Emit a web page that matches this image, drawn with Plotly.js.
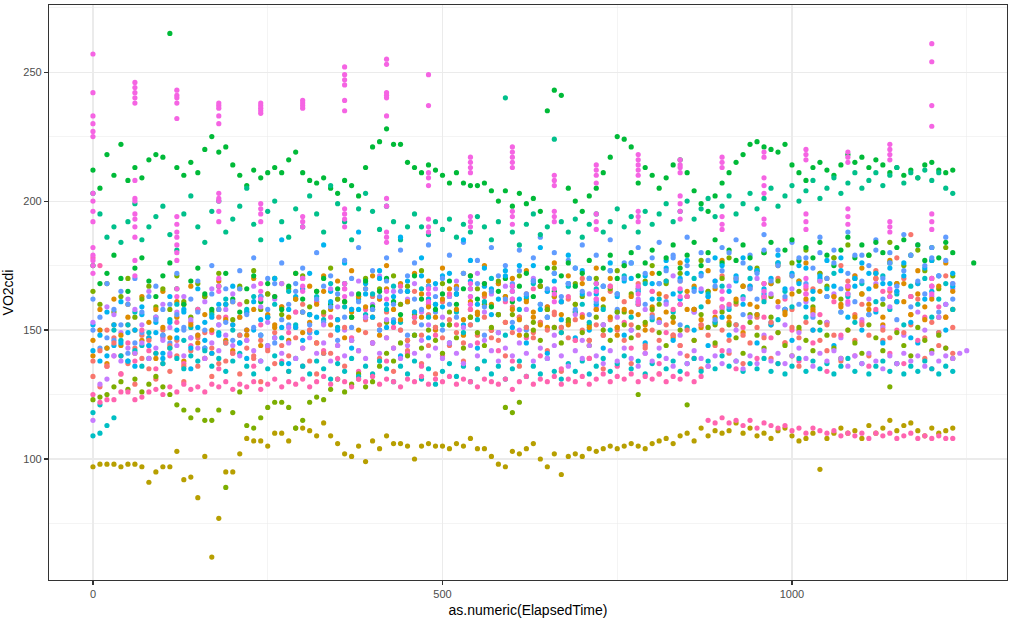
<!DOCTYPE html>
<html><head><meta charset="utf-8">
<script src="https://cdn.plot.ly/plotly-3.0.1.min.js"></script>
<style>html,body{margin:0;padding:0;background:#fff}#chart{width:1024px;height:624px}</style>
</head><body><div id="chart"></div>
<script>
// elapsed time grid (s)
const times = [0,10,20,30,40,50,60,70,80,90,100,110,120,130,140,150,160,170,180,190,
200,210,220,230,240,250,260,270,280,290,300,310,320,330,340,350,360,370,380,390,
400,410,420,430,440,450,460,470,480,490,500,510,520,530,540,550,560,570,580,590,
600,610,620,630,640,650,660,670,680,690,700,710,720,730,740,750,760,770,780,790,
800,810,820,830,840,850,860,870,880,890,900,910,920,930,940,950,960,970,980,990,
1000,1010,1020,1030,1040,1050,1060,1070,1080,1090,1100,1110,1120,1130,1140,1150,1160,1170,1180,1190,
1200,1210,1220,1230,1240,1250,1260];

const colors = ['#F8766D','#DE8C00','#B79F00','#7CAE00','#00BA38','#00BA38','#00C08B','#00BFC4','#00B4F0','#619CFF','#C77CFF','#F564E3','#FF64B0'];

const salmon = [138,142,136,145,140,137,143,139,146,141,
137,144,140,136,142,147,139,143,137,145,
141,148,143,139,146,142,149,144,140,147,
143,150,145,141,148,144,151,146,142,149,
145,152,147,143,150,146,153,148,144,151,
147,154,149,145,152,148,155,150,146,153,
149,155,151,147,153,150,156,151,147,154,
150,146,152,148,154,150,146,152,148,144,
150,146,152,148,144,150,146,152,148,144,
150,146,152,148,145,151,147,153,149,145,
151,147,153,166,146,152,148,175,150,146,
152,148,170,150,147,178,149,187,168,147,
153,149,155,151];
const salmon2 = [132,128,150,147,133,152,129,148,135,131,
150,134,146,130,153,136,149,132,155,138,
152,133,157,140,130,155,137,159,134,151,
160,138,133,156,141,162,136,158,131,154,
163,139,157,134,160,142,165,137,156,133,
161,144,166,138,158,135,163,147,168,140,
159,136,164,149,167,142,157,134,162,146,
170,139,158,135,165,151,161,137,168,143,
156,133,163,148,169,140,158,135,165,153,
171,141,160,137,167,155,162,139,170,145,
158,136,166,150,172,142,163,138,169,156,
160,140,173,146,165,137,170,152,162,139,
167,144,171,141];

const orange = [146,150,143,152,148,155,150,146,153,158,
151,147,155,160,152,148,156,150,158,154,
161,155,150,158,163,156,152,159,155,162,
157,153,160,165,158,154,161,157,163,159,
155,162,166,158,154,161,157,164,159,155,
162,166,158,154,161,157,164,160,156,163,
158,154,161,157,152,159,163,156,152,160,
155,151,158,162,155,151,158,163,156,152,
159,164,157,153,160,165,158,154,161,166,
159,155,162,167,160,156,163,168,161,157,
164,169,162,158,165,170,163,159,166,171,
164,160,167,155,163,168,161,156,164,154,
162,167,155,165];
const orange2 = [140,158,137,162,144,160,141,163,147,139,
165,143,161,138,167,145,163,141,169,146,
142,166,148,170,144,164,151,168,146,172,
149,167,145,171,152,169,147,173,150,166,
171,148,175,153,168,146,172,155,169,150,
174,152,167,148,171,156,175,150,168,153,
170,148,173,155,167,151,176,149,171,157,
168,146,174,152,170,148,175,157,166,150,
172,154,169,147,176,158,167,151,173,155,
177,153,170,149,174,159,168,152,175,156,
171,150,176,157,169,153,178,160,167,155,
174,158,170,152,177,161,168,156,173,159,
170,155,176,158];

const olive = [97,98,98,98,97,98,98,97,91,95,
97,97,103,92,93,85,101,62,77,95,
95,102,108,107,107,105,110,110,107,112,
112,111,109,114,109,106,102,101,105,99,
107,104,109,106,106,105,100,105,106,105,
105,104,106,105,108,104,104,101,98,97,
103,102,104,106,100,97,102,94,101,102,
101,104,103,104,105,104,105,106,105,104,
106,107,108,106,109,110,107,112,109,111,
110,111,114,110,112,109,110,108,111,112,
109,107,108,110,96,108,110,112,110,111,
108,113,110,112,115,111,113,114,111,109,
112,110,111,112];

const yellowGreen = [123,124,125,128,130,127,131,126,129,132,
128,125,121,119,116,119,115,115,119,89,
118,126,113,112,116,120,122,122,120,112,
115,122,124,123,127,131,126,129,133,128,
130,136,141,138,145,140,148,143,150,146,
141,152,147,143,155,149,144,151,156,120,
118,122,148,153,146,158,151,145,154,160,
149,144,155,150,146,157,152,147,125,153,
158,149,144,155,150,121,146,156,151,145,
157,152,147,141,153,148,143,155,149,144,
140,151,146,142,153,148,143,139,150,145,
141,152,147,142,128,149,144,140,151,146,
142,148,143,139];
const yellowGreen2 = [165,160,168,157,163,170,155,162,167,159,
166,158,171,161,155,168,163,157,172,160,
154,167,161,173,158,164,170,156,166,162,
171,159,165,157,174,162,168,155,163,170,
158,166,153,171,160,167,156,173,162,151,
168,157,164,172,155,166,160,150,169,163,
156,171,162,150,167,158,174,161,153,168,
163,152,170,159,166,173,157,164,151,169,
175,160,168,155,172,163,158,177,165,152,
170,178,161,167,156,174,180,163,169,158,
176,165,181,159,172,167,178,162,183,170,
164,179,172,160,184,168,175,163,181,173,
177,166,182,171];

const greenHigh = [212,205,218,210,222,208,213,209,216,218,
217,265,213,210,215,211,220,225,219,221,
214,210,206,212,209,211,213,211,216,219,
211,208,207,209,205,203,208,206,202,213,
221,223,228,222,222,215,213,211,214,212,
210,207,211,207,206,206,207,204,200,204,
198,203,199,201,196,235,243,241,205,200,
196,202,205,211,217,225,224,221,207,213,
210,205,209,214,216,211,204,199,196,202,
207,211,215,218,222,223,221,220,219,222,
214,211,208,213,215,212,210,214,218,215,
217,213,216,214,211,213,210,212,209,214,
215,212,211,212];

const greenMid = [175,168,172,179,170,165,174,178,169,163,
171,176,166,160,169,174,164,158,167,172,
162,157,166,171,161,168,163,158,167,172,
162,156,165,170,160,166,161,155,164,169,
159,165,170,161,156,165,171,162,167,158,
164,169,160,166,171,162,168,159,165,170,
161,167,172,163,169,174,165,171,176,167,
172,177,168,174,179,170,175,180,171,176,
181,172,178,183,174,179,184,175,180,185,
176,181,177,183,178,173,180,184,176,181,
185,177,182,178,184,179,175,181,186,178,
183,179,184,180,176,182,185,179,183,177,
182,178,184,180,null,null,176];

const teal = [203,195,186,190,184,192,199,185,190,194,
198,187,181,195,202,190,184,196,200,188,
193,198,205,191,185,196,200,192,186,197,
190,202,195,188,206,199,192,185,197,203,
196,189,198,192,185,190,195,190,187,192,
189,193,186,191,188,194,190,185,192,240,
188,183,191,195,187,190,224,192,188,193,
186,191,195,188,192,197,190,194,188,196,
191,195,199,192,196,200,193,197,201,194,
198,202,195,199,203,197,201,205,198,202,
206,200,204,208,201,205,209,203,207,211,
205,208,211,206,210,213,207,211,209,212,
208,211,205,203];

const cyan = [109,110,113,116,140,138,142,136,139,141,
137,143,139,135,140,138,142,136,139,134,
138,141,136,133,138,135,140,137,134,139,
136,133,138,135,131,137,134,139,132,136,
133,138,135,130,136,133,138,131,135,129,
134,137,132,136,130,135,138,133,136,131,
135,138,132,136,133,139,134,131,137,134,
138,133,136,139,134,137,140,135,138,133,
137,140,135,138,134,137,139,134,138,135,
140,136,138,134,137,135,139,134,137,133,
136,139,134,138,135,137,133,136,139,134,
137,133,136,138,134,137,133,136,134,138,
135,133,136,134];
const cyan2 = [118,121,143,150,146,152,157,144,149,155,
148,154,160,146,151,158,143,156,149,162,
150,145,158,163,148,155,160,147,165,152,
157,149,163,154,168,151,159,146,162,156,
164,150,158,167,153,161,148,166,155,160,
152,163,157,149,166,154,161,170,156,148,
165,158,151,168,160,155,163,149,167,157,
160,153,166,158,150,164,171,155,161,168,
154,162,169,157,165,151,170,159,164,153,
167,158,152,163,170,156,161,168,154,165,
159,169,155,162,150,166,172,157,163,153,
168,156,161,171,158,164,152,167,160,170,
155,162,168,158];

const skyBlue = [142,148,140,152,145,138,150,156,144,149,
141,153,147,158,143,151,146,155,148,160,
152,145,157,150,163,155,147,185,158,151,
166,156,149,183,161,154,168,158,188,164,
155,170,160,153,186,165,157,171,162,168,
159,172,164,185,169,160,174,166,162,171,
167,175,163,169,182,165,172,161,168,174,
164,170,160,167,173,163,169,176,165,171,
162,168,174,164,170,177,166,172,163,169,
175,165,171,178,167,173,164,170,176,166,
172,168,174,165,171,177,167,173,164,170,
176,166,172,168,174,165,171,147,168,174,
165,171,150,167];
const skyBlue2 = [152,138,157,144,161,149,136,159,147,153,
139,163,150,157,135,166,153,141,160,145,
167,148,139,161,154,144,170,151,137,163,
146,172,155,141,165,150,176,143,158,168,
145,173,151,163,140,169,155,178,147,160,
171,145,164,152,177,143,167,156,149,173,
151,162,145,175,158,141,169,154,179,147,
173,150,164,143,176,157,148,170,160,145,
168,153,177,146,162,172,150,165,144,178,
155,148,169,160,174,145,166,152,179,158,
146,175,159,150,170,163,144,178,155,167,
150,172,157,145,168,161,176,153,145,162,
177,149,160,172];

const blue = [150,155,147,158,152,160,145,157,163,154,
148,160,156,151,162,157,150,164,158,153,
161,166,156,151,163,158,168,154,160,165,
157,152,162,167,159,164,155,170,161,166,
158,163,169,160,165,171,162,158,167,163,
170,160,166,172,163,168,159,165,171,162,
168,173,164,169,160,166,172,163,168,174,
165,170,161,167,173,164,170,176,166,172,
178,168,173,179,169,175,165,171,177,167,
173,180,170,176,166,172,181,169,175,163,
171,178,168,174,180,170,176,166,172,179,
169,175,181,170,176,167,173,179,169,175,
182,171,177,168];
const blue2 = [162,143,168,146,165,141,170,149,144,167,
158,145,172,150,147,169,143,175,152,166,
146,173,150,178,148,170,145,176,152,168,
174,149,180,153,171,146,177,151,182,155,
173,150,178,154,181,148,176,152,183,157,
150,179,155,184,152,177,148,182,156,175,
153,181,150,178,186,155,180,151,177,158,
183,156,179,152,185,158,176,150,182,160,
155,184,161,178,152,186,157,180,163,154,
182,159,185,156,179,162,187,153,181,158,
184,160,178,155,186,163,181,157,188,161,
179,156,185,162,180,154,187,159,183,164,
178,157,186,162];

const purple = [115,129,131,140,138,143,141,145,139,143,
146,141,144,140,147,143,139,145,142,148,
144,140,146,142,138,144,147,141,145,139,
143,147,141,145,138,144,140,146,142,139,
145,141,147,143,139,144,141,146,140,143,
139,145,141,137,144,140,146,142,138,143,
140,145,141,138,143,139,144,140,136,142,
139,144,140,137,142,138,143,139,136,141,
138,143,139,136,141,137,142,139,136,140,
137,142,138,135,140,137,142,138,141,137,
140,143,139,136,141,138,142,139,136,140,
137,141,138,135,140,137,141,138,140,136,
141,138,140,139,141,142];
const purple2 = [153,150,159,156,149,162,158,152,165,155,
160,151,157,163,154,148,161,166,152,158,
164,155,150,167,159,153,162,168,151,157,
170,156,161,152,166,159,150,164,169,155,
160,171,154,165,150,162,168,157,152,166,
155,163,169,151,160,172,157,164,149,167,
162,150,158,170,153,165,148,161,168,156,
146,164,159,152,167,155,170,150,162,158,
165,153,160,171,148,163,157,166,151,169,
158,167,150,162,155,170,148,164,159,152,
166,149,161,156,169,153,164,147,160,171,
154,162,168,151,159,165,148,163,157,150,
163,155,160,166];

const pink = [125,122,123,123,126,126,123,124,126,127,
125,128,126,129,127,128,126,129,128,130,
127,129,128,130,127,129,131,128,130,129,
131,128,130,132,129,131,130,128,131,130,
132,129,131,130,128,131,130,132,129,131,
130,132,129,131,130,128,131,130,129,131,
127,130,132,129,131,130,132,129,131,130,
132,129,131,133,130,132,131,133,130,132,
131,133,130,132,131,133,130,132,115,114,
116,114,115,113,115,112,114,113,112,113,
111,112,110,112,111,110,111,109,110,109,
110,108,110,109,110,108,109,110,108,109,
108,109,108,108];
const pink2 = [178,175,136,140,133,145,138,150,142,135,
147,140,153,137,144,158,139,149,135,155,
141,160,146,136,152,143,163,138,149,157,
136,150,161,142,155,139,166,147,134,158,
145,162,138,151,167,141,155,136,160,148,
140,164,152,137,158,145,168,150,142,161,
138,155,147,166,140,159,151,135,163,146,
156,139,162,148,167,136,153,143,160,141,
165,137,149,158,144,163,139,152,136,157,
142,160,135,151,166,139,155,147,137,162,
150,138,164,145,156,134,161,148,167,140,
153,136,158,165,141,150,137,163,146,155,
135,159,143,168];

// magenta subject: several readings logged at each minute mark
const magentaTimes = [0,60,120,180,240,300,360,420,480,540,600,660,720,780,840,900,960,1020,1080,1140,1200];
const magentaStacks = [
[257,242,233,230,227,225,203,200,196,192,182,179,177,175,172],
[246,244,242,240,238,208,201,200,195,193,190,186,177,171],
[243,241,240,238,232,194,191,188,186,183,180,177,166,163],
[238,237,236,233,230,203,201,200,196,192,170,167,165],
[238,237,236,235,234,199,197,195,192,168,165,162],
[239,238,237,236,194,192,190,170,167,165],
[252,249,247,245,239,235,197,195,193,190,168,166,163],
[255,253,242,241,240,233,201,198,188,186,184,165,162],
[249,237,211,209,206,193,190,188,166,164,161],
[217,215,213,211,194,192,190,168,166,163,160],
[221,219,217,215,213,196,194,191,167,165,162],
[210,208,206,196,194,192,166,164,161],
[214,212,210,207,195,192,189,168,165,162],
[218,216,214,212,210,196,194,192,167,164,161],
[216,214,213,211,202,199,196,193,166,163,160],
[217,215,213,194,191,189,165,162,159],
[219,217,209,206,203,193,191,168,165,163],
[220,218,216,195,192,189,170,167,164],
[219,217,215,197,194,191,167,164,161],
[222,220,218,216,192,190,188,166,163],
[261,254,237,229,195,192,189,170,167,164]
];

const mx = [], my = [];
magentaTimes.forEach((t, i) => magentaStacks[i].forEach(v => { mx.push(t); my.push(v); }));

function pts(vals, color) {
  return {x: times.slice(0, vals.length), y: vals, type: 'scatter', mode: 'markers',
    marker: {color: color, size: 5.2, line: {width: 0}}, hoverinfo: 'x+y', showlegend: false};
}

const traces = [
  pts(salmon2, colors[0]), pts(orange2, colors[1]), pts(yellowGreen2, colors[3]),
  pts(cyan2, colors[7]), pts(skyBlue2, colors[8]), pts(blue2, colors[9]), pts(purple2, colors[10]),
  pts(pink2, colors[12]),
  pts(salmon, colors[0]), pts(orange, colors[1]), pts(olive, colors[2]), pts(yellowGreen, colors[3]),
  pts(greenHigh, colors[4]), pts(greenMid, colors[5]), pts(teal, colors[6]), pts(cyan, colors[7]),
  pts(skyBlue, colors[8]), pts(blue, colors[9]), pts(purple, colors[10]),
  {x: mx, y: my, type: 'scatter', mode: 'markers', marker: {color: colors[11], size: 5.2, line: {width: 0}}, showlegend: false},
  pts(pink, colors[12])
];

const axisCommon = {
  showgrid: true, gridcolor: '#EBEBEB', gridwidth: 1.07, zeroline: false,
  showline: true, mirror: true, linecolor: '#333333', linewidth: 1.07,
  ticks: 'outside', ticklen: 4, tickwidth: 1.07, tickcolor: '#333333',
  tickfont: {family: 'Liberation Sans, Arial, sans-serif', size: 11, color: '#4D4D4D'}
};

const layout = {
  width: 1024, height: 624,
  margin: {l: 49, r: 17, t: 5, b: 44},
  paper_bgcolor: '#FFFFFF', plot_bgcolor: '#FFFFFF',
  showlegend: false,
  font: {family: 'Liberation Sans, Arial, sans-serif'},
  xaxis: Object.assign({}, axisCommon, {
    range: [-62.9, 1307.6], tick0: 0, dtick: 500,
    minor: {tick0: 0, dtick: 250, showgrid: true, gridcolor: '#EBEBEB', gridwidth: 0.55, ticks: ''},
    title: {text: 'as.numeric(ElapsedTime)', font: {size: 14, color: '#000000'}, standoff: 5}
  }),
  yaxis: Object.assign({}, axisCommon, {
    range: [53.1, 276.0], tick0: 0, dtick: 50,
    minor: {tick0: 0, dtick: 25, showgrid: true, gridcolor: '#EBEBEB', gridwidth: 0.55, ticks: ''},
    title: {text: 'VO2cdi', font: {size: 14, color: '#000000'}, standoff: 8}
  })
};

Plotly.newPlot('chart', traces, layout, {displayModeBar: false, staticPlot: true});
</script>
</body></html>
